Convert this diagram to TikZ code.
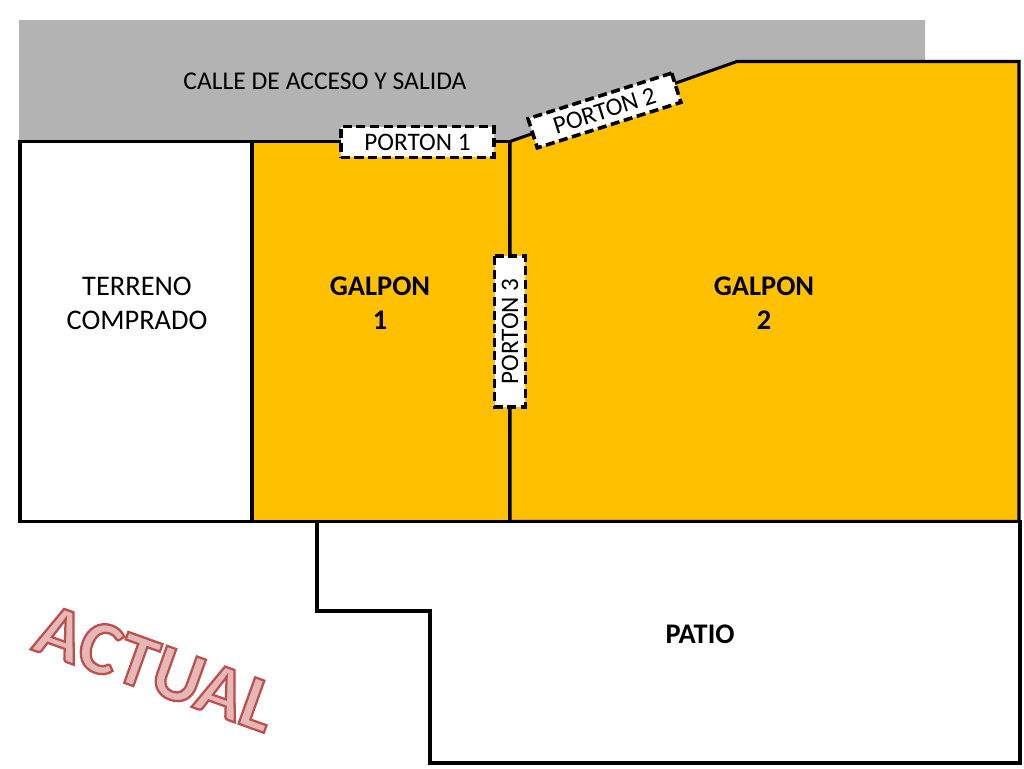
\documentclass[tikz,border=0pt]{standalone}
\usepackage{fontspec}
\setmainfont{Carlito}
\definecolor{galpon}{RGB}{255,192,0}
\definecolor{calle}{RGB}{179,179,179}
\tikzset{
  every node/.style={font=\fontsize{21.3}{25.5}\selectfont, text=black, align=center},
  zone/.style={draw=black, line width=2.3pt, line join=miter},
  door/.style={draw=black, fill=white, line width=2.7pt, dash pattern=on 6.8pt off 3.4pt, inner sep=0pt, minimum height=23pt, font=\fontsize{18.9}{24}\selectfont},
  title/.style={font=\fontsize{21.3}{25.5}\selectfont\bfseries}
}
\begin{document}
\begin{tikzpicture}[x=0.75pt,y=-0.75pt]
\useasboundingbox (0,0) rectangle (1024,768);
\fill[white] (0,0) rectangle (1024,768);
\fill[calle] (19,20) -- (925,20) -- (925,61) -- (737,61) -- (510,141.5) -- (19,141.5) -- cycle;
\draw[zone, fill=white] (20,141.5) rectangle (252,521.5);
\draw[zone, fill=galpon] (252,141.5) rectangle (510,521.5);
\draw[zone, fill=galpon] (510,141.5) -- (737,61.5) -- (1019,61.5) -- (1019,521.5) -- (510,521.5) -- cycle;
\draw[zone, fill=white] (317,521.5) -- (1020,521.5) -- (1020,763) -- (430,763) -- (430,611) -- (317,611) -- cycle;
\node[font=\fontsize{19.2}{24}\selectfont] (calle) at (325,81) {CALLE DE ACCESO Y SALIDA};
\node (terreno) at (137,303) {TERRENO\\COMPRADO};
\node[title] (g1) at (380,303) {GALPON\\1};
\node[title] (g2) at (764,303) {GALPON\\2};
\node[title] (patio) at (700,634) {PATIO};
\node[door, minimum width=115pt] (p1) at (417.5,142) {PORTON 1};
\node[door, minimum width=113pt, rotate=17.6] (p2) at (604.5,110.5) {PORTON 2};
\node[door, minimum width=113pt, rotate=90] (p3) at (510,331.5) {PORTON 3};
\node[inner sep=0pt, rotate=-19.7, font=\fontsize{57}{60}\selectfont\bfseries] (actual) at (156,668) {\special{pdf:code q 2 Tr 1.7 w 0.75 0.31 0.30 RG 0.90 0.72 0.72 rg}ACTUAL\special{pdf:code Q}};
\end{tikzpicture}
\end{document}
